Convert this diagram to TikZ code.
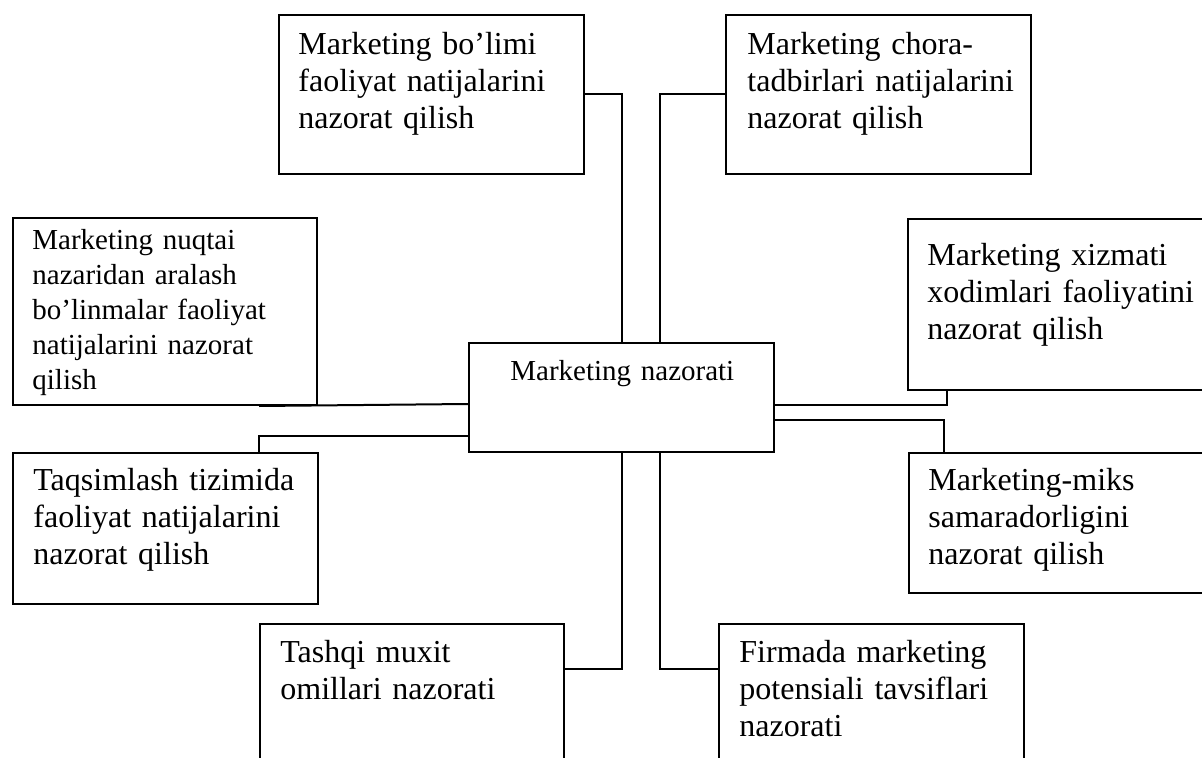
\documentclass[tikz,border=0pt]{standalone}
\usepackage{fontspec}
\setmainfont{Liberation Serif}
\usetikzlibrary{calc}
\begin{document}
\begin{tikzpicture}[x=0.5pt,y=-0.5pt,
  box/.style={draw,line width=1pt,inner sep=0pt,anchor=north west},
  conn/.style={line width=1pt},
  bigtxt/.style={anchor=north west,inner sep=0pt,text width=170pt,align=left,font=\fontsize{16}{18.5}\selectfont},
  smalltxt/.style={anchor=north west,inner sep=0pt,text width=170pt,align=left,font=\fontsize{14.5}{17.5}\selectfont}]
\useasboundingbox (0,0) rectangle (1202,758);
\clip (0,0) rectangle (1202,758);
% boxes
\node[box,minimum width=152.5pt,minimum height=79.5pt] (b1) at (278,14) {};
\node[box,minimum width=152.5pt,minimum height=79.5pt] (b2) at (725,14) {};
\node[box,minimum width=152pt,minimum height=93.5pt] (b3) at (12,217) {};
\node[box,minimum width=160pt,minimum height=85.5pt] (b4) at (907,218) {};
\node[box,minimum width=152.5pt,minimum height=54.5pt] (c) at (468,342) {};
\node[box,minimum width=152.5pt,minimum height=75.5pt] (b5) at (12,452) {};
\node[box,minimum width=160pt,minimum height=70pt] (b6) at (908,452) {};
\node[box,minimum width=152pt,minimum height=75pt] (b7) at (259,623) {};
\node[box,minimum width=152.5pt,minimum height=75pt] (b8) at (718,623) {};
% texts
\node[bigtxt] (t1) at (298,30) {\rule{0pt}{12pt}Marketing bo’limi\\faoliyat natijalarini\\nazorat qilish};
\node[bigtxt] (t2) at (747,30) {\rule{0pt}{12pt}Marketing chora-\\tadbirlari natijalarini\\nazorat qilish};
\node[smalltxt] (t3) at (32,227) {\rule{0pt}{11pt}Marketing nuqtai\\nazaridan aralash\\bo’linmalar faoliyat\\natijalarini nazorat\\qilish};
\node[bigtxt] (t4) at (927,241) {\rule{0pt}{12pt}Marketing xizmati\\xodimlari faoliyatini\\nazorat qilish};
\node[smalltxt] (tc) at (510,358) {\rule{0pt}{11pt}Marketing nazorati};
\node[bigtxt] (t5) at (33,466) {\rule{0pt}{12pt}Taqsimlash tizimida\\faoliyat natijalarini\\nazorat qilish};
\node[bigtxt] (t6) at (928,466) {\rule{0pt}{12pt}Marketing-miks\\samaradorligini\\nazorat qilish};
\node[bigtxt] (t7) at (280,638) {\rule{0pt}{12pt}Tashqi muxit\\omillari nazorati};
\node[bigtxt] (t8) at (739,638) {\rule{0pt}{12pt}Firmada marketing\\potensiali tavsiflari\\nazorati};
% connectors
\draw[conn] (b1.east) -| (c.north);
\draw[conn] (b2.west) -| ($(c.north)+(38.5,0)$);
\draw[conn] ($(b3.south west)+(247,0)$) -- ($(c.north west)+(0,62)$);
\draw[conn] ($(c.north west)+(0,94)$) -| ($(b5.north west)+(247,0)$);
\draw[conn] ($(c.north east)+(0,63)$) -| ($(b4.south west)+(40,0)$);
\draw[conn] ($(c.north east)+(0,78)$) -| ($(b6.north west)+(36,0)$);
\draw[conn] ($(b7.north east)+(0,46)$) -| (c.south);
\draw[conn] ($(b8.north west)+(0,46)$) -| ($(c.south)+(38.5,0)$);
\end{tikzpicture}
\end{document}
